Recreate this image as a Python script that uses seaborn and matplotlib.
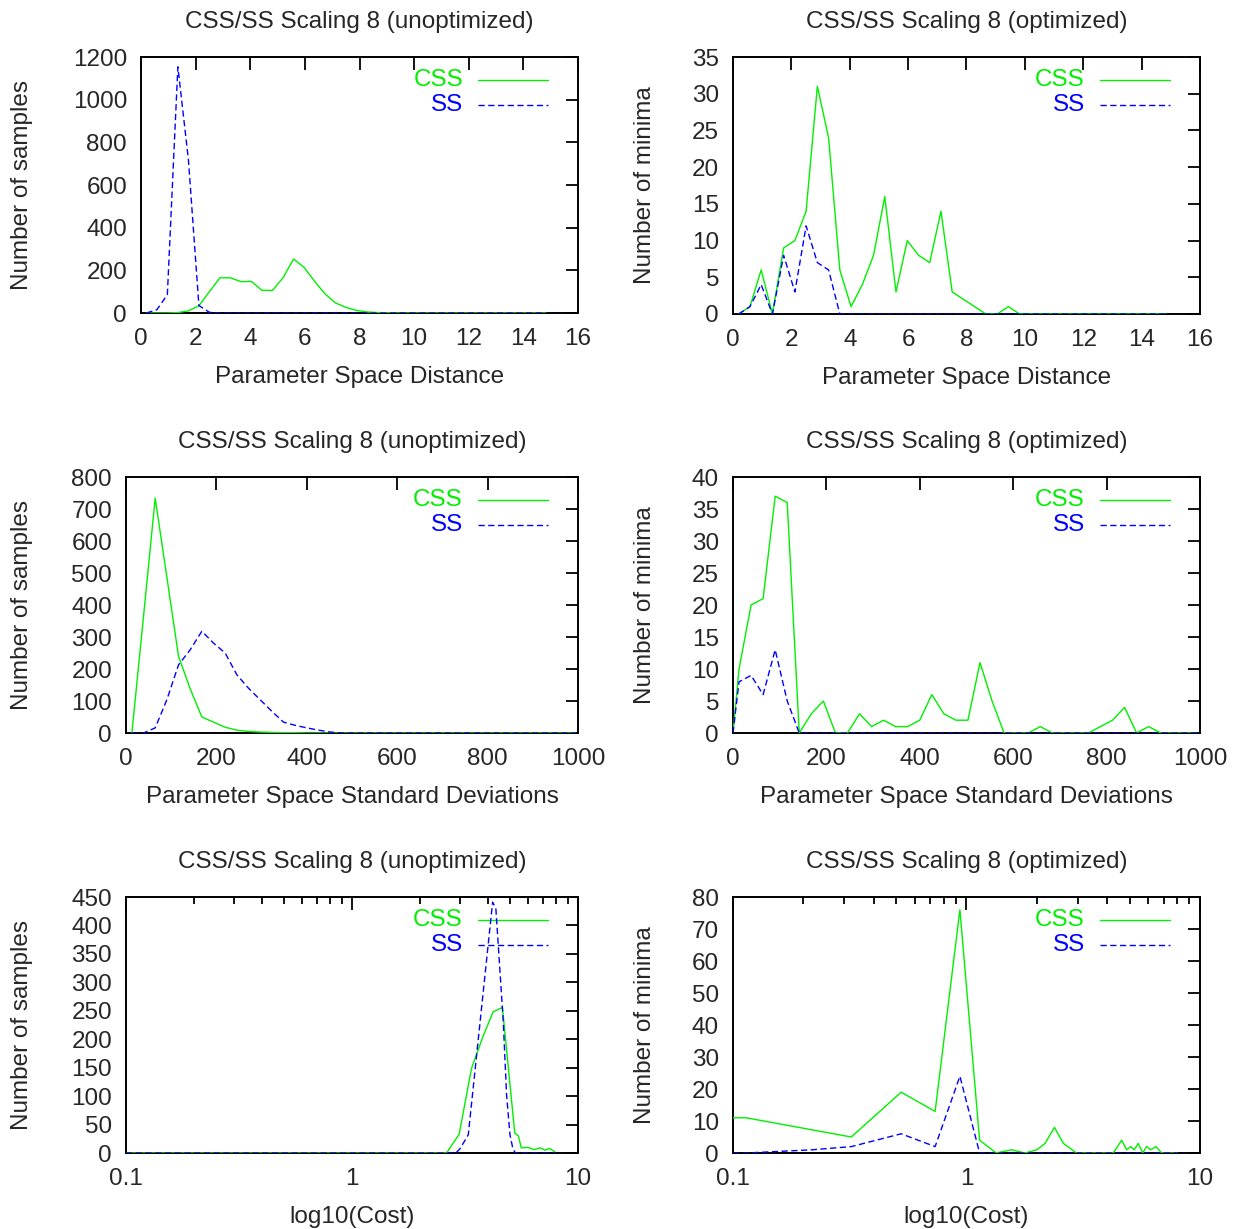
import matplotlib
matplotlib.use("Agg")
import matplotlib.pyplot as plt
from matplotlib.ticker import LogLocator, NullFormatter
import seaborn as sns

# ---------------------------------------------------------------------------
# Histogram data (bin centre, count)
# ---------------------------------------------------------------------------

# Parameter space distance bins
dist_x = [0.195, 0.58, 0.965, 1.35, 1.735, 2.12, 2.505, 2.89, 3.275, 3.66,
          4.045, 4.43, 4.815, 5.2, 5.585, 5.97, 6.355, 6.74, 7.125, 7.51,
          7.895, 8.28, 8.665, 9.05, 9.435, 9.82, 10.205, 10.59, 10.975, 11.36,
          11.745, 12.13, 12.515, 12.9, 13.285, 13.67, 14.055, 14.44, 14.825]

dist_css_unopt = [0, 0, 0, 2, 10, 34, 100, 165, 165, 147,
                  148, 106, 106, 165, 253, 214, 149, 89, 47, 26,
                  12, 5, 2, 1, 0, 0, 0, 0, 0, 0,
                  0, 0, 0, 0, 0, 0, 0, 0, 0]
dist_ss_unopt = [0, 15, 86, 1154, 720, 35, 3, 0, 0, 0,
                 0, 0, 0, 0, 0, 0, 0, 0, 0, 0,
                 0, 0, 0, 0, 0, 0, 0, 0, 0, 0,
                 0, 0, 0, 0, 0, 0, 0, 0, 0]
dist_css_opt = [0, 1, 6, 0, 9, 10, 14, 31, 24, 6,
                1, 4, 8, 16, 3, 10, 8, 7, 14, 3,
                2, 1, 0, 0, 1, 0, 0, 0, 0, 0,
                0, 0, 0, 0, 0, 0, 0, 0, 0]
dist_ss_opt = [0, 1, 4, 0, 8, 3, 12, 7, 6, 0,
               0, 0, 0, 0, 0, 0, 0, 0, 0, 0,
               0, 0, 0, 0, 0, 0, 0, 0, 0, 0,
               0, 0, 0, 0, 0, 0, 0, 0, 0]

# Parameter space standard deviation bins
sd_x = [13.0, 38.8, 64.6, 90.4, 116.2, 142.0, 167.8, 193.6, 219.4, 245.2,
        271.0, 296.8, 322.6, 348.4, 374.2, 400.0, 425.8, 451.6, 477.4, 503.2,
        529.0, 554.8, 580.6, 606.4, 632.2, 658.0, 683.8, 709.6, 735.4, 761.2,
        787.0, 812.8, 838.6, 864.4, 890.2, 916.0, 941.8, 967.6, 993.4]

sd_css_unopt = [0, 365, 734, 487, 240, 138, 50, 34, 18, 9,
                5, 3, 2, 1, 1, 0, 0, 0, 0, 0,
                0, 0, 0, 0, 0, 0, 0, 0, 0, 0,
                0, 0, 0, 0, 0, 0, 0, 0, 0]
sd_ss_unopt = [0, 0, 16, 104, 213, 260, 318, 281, 250, 182,
               140, 104, 68, 34, 24, 16, 9, 3, 0, 0,
               0, 0, 0, 0, 0, 0, 0, 0, 0, 0,
               0, 0, 0, 0, 0, 0, 0, 0, 0]

sd_opt_x = [0.0, 12.9, 38.7, 64.5, 90.3, 116.1, 141.9, 167.7, 193.5, 219.3,
            245.1, 270.9, 296.7, 322.5, 348.3, 374.1, 399.9, 425.7, 451.5, 477.3,
            503.1, 528.9, 554.7, 580.5, 606.3, 632.1, 657.9, 683.7, 709.5, 735.3,
            761.1, 786.9, 812.7, 838.5, 864.3, 890.1, 915.9, 941.7, 967.5, 993.3]
sd_css_opt = [0, 10, 20, 21, 37, 36, 0, 3, 5, 0,
              0, 3, 1, 2, 1, 1, 2, 6, 3, 2,
              2, 11, 5, 0, 0, 0, 1, 0, 0, 0,
              0, 1, 2, 4, 0, 1, 0, 0, 0, 0]
sd_ss_opt = [0, 8, 9, 6, 13, 5, 0, 0, 0, 0,
             0, 0, 0, 0, 0, 0, 0, 0, 0, 0,
             0, 0, 0, 0, 0, 0, 0, 0, 0, 0,
             0, 0, 0, 0, 0, 0, 0, 0, 0, 0]

# Cost histograms
cost_css_unopt_x = [0.1, 2.62, 2.98, 3.38, 3.8, 4.21, 4.63, 5.25, 5.45, 5.61,
                    6.0, 6.4, 6.8, 7.15, 7.5, 7.9]
cost_css_unopt = [0, 0, 33, 149, 205, 248, 256, 35, 30, 9,
                  10, 6, 9, 5, 8, 2]
cost_ss_unopt_x = [0.1, 2.88, 3.0, 3.27, 4.19, 4.33, 4.67, 4.83, 5.0, 5.16,
                   5.3, 7.9]
cost_ss_unopt = [0, 0, 7, 32, 441, 430, 231, 102, 32, 6,
                 0, 0]

cost_css_opt_x = [0.1, 0.114, 0.321, 0.525, 0.734, 0.937, 1.138, 1.34, 1.56, 1.78,
                  2.0, 2.17, 2.38, 2.6, 2.96, 4.25, 4.62, 4.85, 5.05, 5.23,
                  5.44, 5.68, 5.91, 6.15, 6.48, 6.85, 8.0]
cost_css_opt = [11, 11, 5, 19, 13, 76, 4, 0, 1, 0,
                1, 3, 8, 3, 0, 0, 4, 1, 2, 1,
                3, 0, 2, 1, 2, 0, 0]
cost_ss_opt_x = [0.1, 0.114, 0.218, 0.321, 0.525, 0.734, 0.937, 1.138, 8.0]
cost_ss_opt = [0, 0, 1, 2, 6, 2, 24, 0, 0]

titles = ["CSS/SS Scaling 8 (unoptimized)", "CSS/SS Scaling 8 (optimized)"]
ylabels = ["Number of samples", "Number of minima"]
xlabels = ["Parameter Space Distance", "Parameter Space Standard Deviations",
           "log10(Cost)"]
series_names = ["CSS", "SS"]

# ---------------------------------------------------------------------------
# Styling
# ---------------------------------------------------------------------------
sns.set_style("white")
plt.rcParams["font.family"] = ["Liberation Sans", "DejaVu Sans"]
plt.rcParams["axes.linewidth"] = 1.4
plt.rcParams["axes.edgecolor"] = "black"

GREEN = "#00f000"
BLUE = "#0000ff"
FS = 17.5
DASH = (0, (4.5, 2.5))

W, H = 1239, 1229
fig = plt.figure(figsize=(W / 100, H / 100), dpi=100)
fig.patch.set_facecolor("white")

# panel frames in pixels: left, right, top, bottom
frames = [
    [(141, 578, 57, 313), (733, 1200, 57, 314)],
    [(126, 578, 477, 733), (733, 1200, 477, 733)],
    [(126, 578, 897, 1153), (733, 1200, 897, 1153)],
]
ylabel_px = [22, 645]

panels = [
    [(dist_x, dist_css_unopt, dist_x, dist_ss_unopt),
     (dist_x, dist_css_opt, dist_x, dist_ss_opt)],
    [(sd_x, sd_css_unopt, sd_x, sd_ss_unopt),
     (sd_opt_x, sd_css_opt, sd_opt_x, sd_ss_opt)],
    [(cost_css_unopt_x, cost_css_unopt, cost_ss_unopt_x, cost_ss_unopt),
     (cost_css_opt_x, cost_css_opt, cost_ss_opt_x, cost_ss_opt)],
]
y_ranges = [[(1200, 200), (35, 5)], [(800, 100), (40, 5)], [(450, 50), (80, 10)]]


def draw_key(ax, w, h):
    for row, (name, col, ls) in enumerate(zip(series_names, [GREEN, BLUE],
                                              ["-", DASH])):
        yy = 1 - (23 + 25 * row) / h
        ax.text(1 - 115 / w, yy, name, transform=ax.transAxes, ha="right",
                va="center", color=col, fontsize=FS)
        ax.plot([1 - 100 / w, 1 - 30 / w], [yy, yy], transform=ax.transAxes,
                color=col, lw=1.0, linestyle=ls, clip_on=False)


for r in range(3):
    for c in range(2):
        l, rr, t, b = frames[r][c]
        w, h = rr - l, b - t
        ax = fig.add_axes([l / W, 1 - b / H, w / W, h / H])
        xc, yc, xs, ys = panels[r][c]
        sns.lineplot(x=xc, y=yc, ax=ax, color=GREEN, lw=1.0,
                     estimator=None, sort=False, zorder=3)
        sns.lineplot(x=xs, y=ys, ax=ax, color=BLUE, lw=1.0,
                     linestyle=DASH, estimator=None, sort=False, zorder=3)

        ymax, ystep = y_ranges[r][c]
        ax.set_ylim(0, ymax)
        ax.set_yticks(list(range(0, ymax + 1, ystep)))

        if r == 0:
            ax.set_xlim(0, 16)
            ax.set_xticks(list(range(0, 17, 2)))
        elif r == 1:
            ax.set_xlim(0, 1000)
            ax.set_xticks([0, 200, 400, 600, 800, 1000])
        else:
            ax.set_xscale("log")
            ax.set_xlim(0.1, 10)
            ax.set_xticks([0.1, 1, 10])
            ax.set_xticklabels(["0.1", "1", "10"])
            ax.xaxis.set_minor_locator(LogLocator(base=10, subs=range(2, 10)))
            ax.xaxis.set_minor_formatter(NullFormatter())

        ax.tick_params(which="both", direction="in", top=True, right=True,
                       labelsize=FS, width=1.3, color="black")
        ax.tick_params(axis="x", pad=11)
        ax.tick_params(axis="y", pad=10)
        ax.tick_params(which="major", length=9)
        ax.tick_params(which="minor", length=5)
        for sp in ax.spines.values():
            sp.set_visible(True)
            sp.set_linewidth(1.4)
            sp.set_color("black")

        ax.set_title(titles[c], fontsize=FS, pad=21)
        ax.set_xlabel(xlabels[r], fontsize=FS)
        ax.set_ylabel(ylabels[c], fontsize=FS)
        ax.xaxis.label.set_va("center")
        ax.xaxis.set_label_coords(0.5, -64 / h)
        ax.yaxis.label.set_va("center")
        ax.yaxis.set_label_coords((ylabel_px[c] - l) / w, 0.5)

        draw_key(ax, w, h)

fig.savefig("out.png", dpi=100, facecolor="white")
